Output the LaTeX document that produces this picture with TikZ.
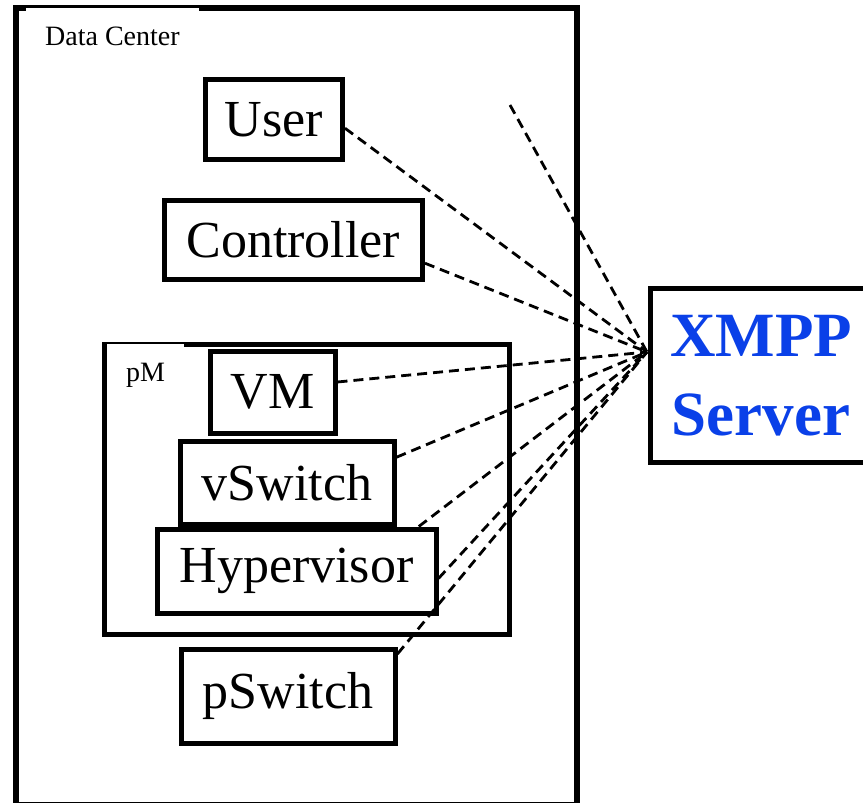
\documentclass[tikz,border=0pt]{standalone}
\usepackage{fontspec}
\setmainfont{Liberation Serif}
\definecolor{xmppblue}{RGB}{10,64,232}
\begin{document}
\begin{tikzpicture}[x=1pt,y=-1pt,
	box/.style={draw, line width=5pt, inner sep=0pt, fill=white, font=\fontsize{52}{62}\selectfont},
	frame/.style={draw, line width=#1, inner sep=0pt},
	tag/.style={fill=white, inner sep=19pt, anchor=base west, font=\fontsize{28}{34}\selectfont},
	link/.style={line width=2.8pt, dash pattern=on 10pt off 6pt}]
		\useasboundingbox (0,0) rectangle (863,803);
		\node[frame=6pt, minimum width=561.5pt, minimum height=797pt] (dc) at (296.25,406) {};
		\node[tag] (dclabel) at (26,45.5) {Data Center};
		\node[frame=5pt, minimum width=405pt, minimum height=290pt] (pm) at (306.5,489) {};
		\node[tag] (pmlabel) at (107,381.7) {pM};
		\node[box, minimum width=137pt, minimum height=80pt] (user) at (274,119.5) {User};
		\node[box, minimum width=258.5pt, minimum height=79pt] (ctrl) at (293.25,240) {Controller};
		\node[box, minimum width=124.5pt, minimum height=82.5pt] (vm) at (272.75,392.25) {VM};
		\node[box, minimum width=214pt, minimum height=83pt] (vsw) at (287,482.5) {vSwitch};
		\node[box, minimum width=279pt, minimum height=84pt] (hyp) at (296.5,571) {Hypervisor};
		\node[box, minimum width=214pt, minimum height=94pt] (psw) at (288,696) {pSwitch};
		\node[box, minimum width=221pt, minimum height=173.5pt, align=center, text=xmppblue,
			font=\fontsize{63}{79}\selectfont\bfseries] (xmpp) at (761,375.25) {XMPP\\Server};
		\coordinate (hub) at (647,352);
		\coordinate (loose) at (510,105);
		\draw[link] (user.-7)--(hub);
		\draw[link] (ctrl.-10)--(hub);
		\draw[link] (loose)--(hub);
		\draw[link] (vm.9)--(hub);
		\draw[link] (vsw.13)--(hub);
		\draw[link] (hyp.20)--(hub);
		\draw[link] (hyp.-3)--(hub);
		\draw[link] (psw.21)--(hub);
		\end{tikzpicture}
\end{document}
